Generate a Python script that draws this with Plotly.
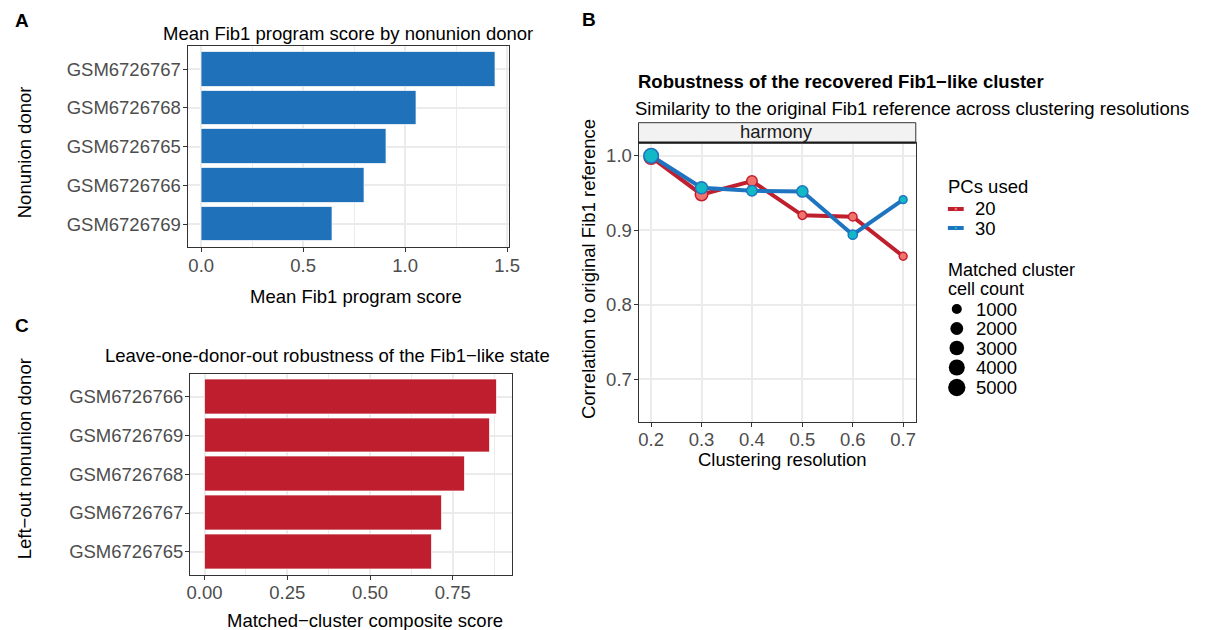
import numpy as np
import plotly.graph_objects as go

W, H = 1205, 630
FONT = "Liberation Sans, Arial, Helvetica, sans-serif"
FS = 18.5
TICK_COL = "#4D4D4D"
GRID = "#EBEBEB"
FRAME = "#333333"

# ---- Panel A: mean Fib1 program score per donor (top to bottom) ----
donors_a = ["GSM6726767", "GSM6726768", "GSM6726765", "GSM6726766", "GSM6726769"]
fib1_score = [1.441, 1.056, 0.910, 0.802, 0.642]

# ---- Panel C: leave-one-donor-out composite score (top to bottom) ----
donors_c = ["GSM6726766", "GSM6726769", "GSM6726768", "GSM6726767", "GSM6726765"]
composite_score = [0.885, 0.863, 0.786, 0.717, 0.687]

# ---- Panel B: correlation to the original Fib1 reference ----
resolution = [0.2, 0.3, 0.4, 0.5, 0.6, 0.7]
corr_pc20 = [0.998, 0.948, 0.966, 0.920, 0.918, 0.865]
corr_pc30 = [1.000, 0.957, 0.953, 0.952, 0.894, 0.941]
cells_pc20 = [3700, 2600, 1630, 990, 1010, 860]
cells_pc30 = [3950, 2400, 1630, 1940, 1180, 860]
size_breaks = [1000, 2000, 3000, 4000, 5000]

RED_LINE, RED_FILL = "#C01F2E", "#F2736E"
BLUE_LINE, BLUE_FILL = "#1F74C0", "#12B8C6"
BAR_BLUE, BAR_RED = "#1F71BA", "#BE1E2D"


def px(x):
    return x / W


def py(y):
    return 1 - y / H


def point_diameter(count):
    # area-style size scale (sqrt of rescaled count)
    c = np.clip((np.asarray(count, float) - 700.0) / 4400.0, 0, 1)
    return 7.4 + 10.0 * np.sqrt(c)


fig = go.Figure()

# Panel A bars
fig.add_trace(go.Bar(
    x=fib1_score, y=donors_a, orientation="h", width=0.9,
    marker=dict(color=BAR_BLUE, line=dict(color="rgba(255,255,255,0.7)", width=1)),
    xaxis="x", yaxis="y", showlegend=False, hoverinfo="x+y"))

# Panel C bars
fig.add_trace(go.Bar(
    x=composite_score, y=donors_c, orientation="h", width=0.9,
    marker=dict(color=BAR_RED, line=dict(color="rgba(255,255,255,0.7)", width=1)),
    xaxis="x3", yaxis="y3", showlegend=False, hoverinfo="x+y"))

# Panel B lines, then points
MLW = 1.5
fig.add_trace(go.Scatter(x=resolution, y=corr_pc20, mode="lines",
                         line=dict(color=RED_LINE, width=4),
                         xaxis="x2", yaxis="y2", showlegend=False))
fig.add_trace(go.Scatter(x=resolution, y=corr_pc30, mode="lines",
                         line=dict(color=BLUE_LINE, width=4),
                         xaxis="x2", yaxis="y2", showlegend=False))
fig.add_trace(go.Scatter(x=resolution, y=corr_pc20, mode="markers",
                         marker=dict(size=point_diameter(cells_pc20) - MLW, color=RED_FILL,
                                     opacity=1, line=dict(color=RED_LINE, width=MLW)),
                         customdata=cells_pc20,
                         xaxis="x2", yaxis="y2", showlegend=False))
fig.add_trace(go.Scatter(x=resolution, y=corr_pc30, mode="markers",
                         marker=dict(size=point_diameter(cells_pc30) - MLW, color=BLUE_FILL,
                                     opacity=1, line=dict(color=BLUE_LINE, width=MLW)),
                         customdata=cells_pc30,
                         xaxis="x2", yaxis="y2", showlegend=False))

# Legend drawn in a hidden pixel-scaled axes on the right
LEG_X0, LEG_X1, LEG_Y0, LEG_Y1 = 940, 1080, 160, 400
pc_rows = [("20", RED_LINE, RED_FILL, 209), ("30", BLUE_LINE, BLUE_FILL, 228)]
for label, lc, fc, yy in pc_rows:
    fig.add_trace(go.Scatter(x=[956, 972], y=[yy, yy], mode="lines",
                             line=dict(color=lc, width=4),
                             xaxis="x4", yaxis="y4", showlegend=False, hoverinfo="skip"))
    fig.add_trace(go.Scatter(x=[964], y=[yy], mode="markers",
                             marker=dict(size=3.5, color=fc, opacity=1,
                                         line=dict(color=lc, width=0.8)),
                             xaxis="x4", yaxis="y4", showlegend=False, hoverinfo="skip"))

size_rows_y = [309, 328.5, 348, 367.5, 387.5]
fig.add_trace(go.Scatter(x=[965] * len(size_breaks), y=size_rows_y, mode="markers",
                         marker=dict(size=point_diameter(size_breaks), color="black",
                                     opacity=1, line=dict(width=0)),
                         xaxis="x4", yaxis="y4", showlegend=False, hoverinfo="skip"))

axis_common = dict(
    showline=True, linecolor=FRAME, linewidth=1, mirror=True,
    ticks="outside", ticklen=4, tickwidth=1, tickcolor=FRAME,
    tickfont=dict(family=FONT, size=FS, color=TICK_COL),
    gridcolor=GRID, gridwidth=1.6, zeroline=False, fixedrange=True,
)
xtick_shift = dict(ticklabelstandoff=-3)
ytick_shift = dict(ticklabelstandoff=-2)

fig.update_layout(
    width=W, height=H, margin=dict(l=0, r=0, t=0, b=0),
    paper_bgcolor="white", plot_bgcolor="white",
    font=dict(family=FONT, size=FS, color="black"),
    bargap=0, showlegend=False,
    xaxis=dict(axis_common, **xtick_shift, domain=[px(186.7), px(511.5)], anchor="y",
               range=[-0.067, 1.507], tickvals=[0, 0.5, 1.0, 1.5],
               ticktext=["0.0", "0.5", "1.0", "1.5"],
               minor=dict(tickvals=[0.25, 0.75, 1.25], showgrid=True,
                          gridcolor=GRID, gridwidth=0.9, ticks="")),
    yaxis=dict(axis_common, **ytick_shift, domain=[py(247.3), py(46)], anchor="x",
               type="category", categoryorder="array",
               categoryarray=donors_a[::-1], range=[-0.6, 4.6]),
    xaxis3=dict(axis_common, **xtick_shift, domain=[px(189.2), px(515)], anchor="y3",
                range=[-0.044, 0.929], tickvals=[0, 0.25, 0.5, 0.75],
                ticktext=["0.00", "0.25", "0.50", "0.75"],
                minor=dict(tickvals=[0.125, 0.375, 0.625, 0.875], showgrid=True,
                           gridcolor=GRID, gridwidth=0.9, ticks="")),
    yaxis3=dict(axis_common, **ytick_shift, domain=[py(575), py(373.5)], anchor="x3",
                type="category", categoryorder="array",
                categoryarray=donors_c[::-1], range=[-0.6, 4.6]),
    xaxis2=dict(axis_common, ticklabelstandoff=-4, domain=[px(643), px(923.5)], anchor="y2",
                range=[0.175, 0.725], tickvals=resolution,
                ticktext=[f"{r:.1f}" for r in resolution]),
    yaxis2=dict(axis_common, **ytick_shift, domain=[py(422.3), py(142.7)], anchor="x2",
                range=[0.642, 1.0175], tickvals=[0.7, 0.8, 0.9, 1.0],
                ticktext=["0.7", "0.8", "0.9", "1.0"]),
    xaxis4=dict(domain=[px(LEG_X0), px(LEG_X1)], range=[LEG_X0, LEG_X1],
                visible=False, anchor="y4", fixedrange=True),
    yaxis4=dict(domain=[py(LEG_Y1), py(LEG_Y0)], range=[LEG_Y1, LEG_Y0],
                visible=False, anchor="x4", fixedrange=True),
)

# Facet strip above panel B
fig.add_shape(type="rect", xref="paper", yref="paper",
              x0=px(643), x1=px(923.5), y0=py(142.7), y1=py(122.7),
              fillcolor="#F2F2F2", line=dict(color=FRAME, width=1), layer="below")
fig.add_shape(type="line", xref="paper", yref="paper",
              x0=px(643), x1=px(923.5), y0=py(142.7), y1=py(142.7),
              line=dict(color="#1A1A1A", width=2.2))


def note(text, x, y, size=FS, color="black", bold=False, xanchor="center",
         yanchor="middle", angle=0, align="center"):
    if bold:
        text = f"<b>{text}</b>"
    fig.add_annotation(text=text, x=px(x), y=py(y), xref="paper", yref="paper",
                       showarrow=False, xanchor=xanchor, yanchor=yanchor,
                       textangle=angle, align=align,
                       font=dict(family=FONT, size=size, color=color))


# Panel letters
note("A", 19.5, 20, size=19, bold=True)
note("B", 593, 19.5, size=19, bold=True)
note("C", 19.5, 325, size=19, bold=True)

# Panel A text
note("Mean Fib1 program score by nonunion donor", 349, 33.5)
note("Mean Fib1 program score", 357, 296)
note("Nonunion donor", 21.5, 152, angle=-90)

# Panel C text
note("Leave-one-donor-out robustness of the Fib1\u2212like state", 328, 355.5)
note("Matched\u2212cluster composite score", 366, 620)
note("Left\u2212out nonunion donor", 21.5, 459, angle=-90)

# Panel B text
note("Robustness of the recovered Fib1\u2212like cluster", 640, 81.5, bold=True,
     xanchor="left")
note("Similarity to the original Fib1 reference across clustering resolutions", 637, 108,
     xanchor="left")
note("harmony", 783, 131, color="#1A1A1A")
note("Clustering resolution", 789, 459)
note("Correlation to original Fib1 reference", 592, 269, angle=-90)

# Legend text
note("PCs used", 954, 186, xanchor="left")
for label, _, _, yy in pc_rows:
    note(label, 981, yy, xanchor="left")
note("Matched cluster", 954, 270, size=18, xanchor="left")
note("cell count", 954, 289, size=18, xanchor="left")
for b, yy in zip(size_breaks, size_rows_y):
    note(str(b), 982, yy, xanchor="left")

fig.write_html("out.html")
